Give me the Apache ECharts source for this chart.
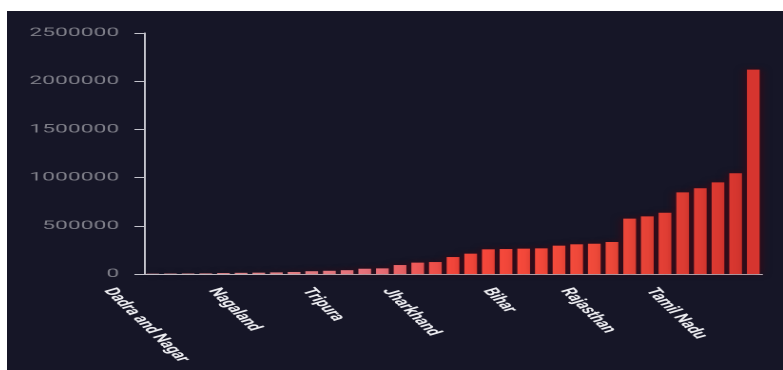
<!DOCTYPE html>
<html>
<head>
<meta charset="utf-8">
<script src="https://cdn.jsdelivr.net/npm/echarts@6/dist/echarts.min.js"></script>
<style>
  html, body { margin: 0; background: #fff; }
  /* the source picture is stretched sideways, so the chart is drawn narrow and scaled */
  #chart {
    position: absolute; left: 7px; top: 11px;
    width: 408px; height: 359px;
    transform: scaleX(1.902); transform-origin: 0 0;
  }
</style>
</head>
<body>
<div id="chart"></div>
<script>
const states = [
  'Dadra and Nagar', 'Mizoram', 'Andaman and Nicobar', 'Sikkim', 'Ladakh',
  'Nagaland', 'Meghalaya', 'Arunachal Pradesh', 'Chandigarh', 'Manipur',
  'Tripura', 'Puducherry', 'Goa', 'Himachal Pradesh', 'Uttarakhand',
  'Jharkhand', 'Jammu and Kashmir', 'Punjab', 'Assam', 'Madhya Pradesh',
  'Bihar', 'Haryana', 'Gujarat', 'Telangana', 'Chhattisgarh',
  'Rajasthan', 'Odisha', 'West Bengal', 'Uttar Pradesh', 'Delhi',
  'Tamil Nadu', 'Andhra Pradesh', 'Karnataka', 'Kerala', 'Maharashtra'
]
const cases = [
  3400, 4400, 5000, 6100, 9800,
  12200, 13900, 16800, 21000, 29000,
  33400, 39600, 54800, 58400, 93000,
  118000, 124000, 176000, 211000, 256000,
  259000, 263000, 266000, 294000, 308000,
  314000, 332000, 574000, 598000, 636000,
  847000, 889000, 951000, 1045000, 2120000
]
const yMax = 2500000
const yStep = 500000

const barColors = ['#dd8c92', '#e0858a', '#e27d82', '#e8707a', '#f3463b',
  '#f5493b', '#f04b3b', '#e03d34', '#d6352f']

let chart = echarts.init(document.getElementById('chart'), null, { devicePixelRatio: 2 })

// rotated x labels: keep their tops on one line, centred a little left of the bar
const labelFont = { fontFamily: 'Roboto', fontSize: 11, fontWeight: 'bold', color: '#ececf0' }
const angle = 61 * Math.PI / 180
const shiftLeft = 3.5
const ctx = document.createElement('canvas').getContext('2d')
ctx.font = 'bold 11px Roboto'
let rich = {}
states.forEach((s, i) => {
  let d = ctx.measureText(s).width * Math.sin(angle) / 2
  rich['s' + i] = Object.assign({
    padding: [
      2 * d * Math.cos(angle) + 2 * shiftLeft * Math.sin(angle),
      2 * shiftLeft * Math.cos(angle),
      0,
      2 * d * Math.sin(angle)
    ]
  }, labelFont)
})

let option = {
  backgroundColor: '#161627',
  animation: false,
  grid: { left: 72, right: 11, top: 22, bottom: 96 },
  xAxis: {
    type: 'category',
    data: states,
    boundaryGap: true,
    axisLine: { lineStyle: { color: '#c4c4cc', width: 1 } },
    axisTick: { interval: 4, length: 3, lineStyle: { color: '#9a9aa4' } },
    axisLabel: Object.assign({
      interval: 4,
      rotate: -61,
      align: 'center',
      verticalAlign: 'middle',
      margin: 15,
      hideOverlap: false,
      formatter: (v, i) => '{s' + i + '|' + v + '}',
      rich: rich
    }, labelFont)
  },
  yAxis: {
    type: 'value',
    min: 0,
    max: yMax,
    interval: yStep,
    axisLine: { show: true, lineStyle: { color: '#c4c4cc', width: 1 } },
    axisTick: { show: true, length: 5, lineStyle: { color: '#c4c4cc' } },
    axisLabel: {
      color: '#7e7e88', fontFamily: 'Roboto', fontSize: 12, margin: 13,
      formatter: (v) => String(v)
    },
    splitLine: { show: false }
  },
  series: [{
    type: 'bar',
    data: cases,
    barCategoryGap: '28%',
    itemStyle: {
      color: (p) => echarts.color.lerp(p.dataIndex / (cases.length - 1), barColors),
      shadowColor: 'rgba(90, 0, 10, 0.7)',
      shadowBlur: 6
    }
  }]
}

chart.setOption(option)
</script>
</body>
</html>
